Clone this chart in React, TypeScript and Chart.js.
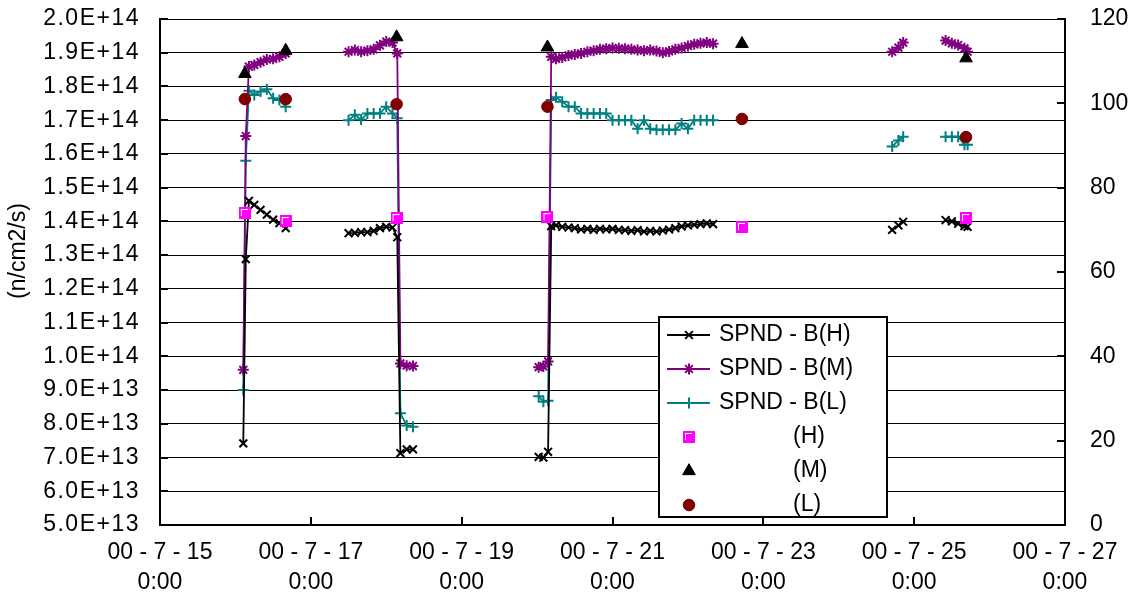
import React, { useEffect, useRef } from 'react';
import { Chart, registerables } from 'chart.js';
import { drawPoint } from 'chart.js/helpers';

Chart.register(...registerables);

const FONT = "'Liberation Sans', Arial, sans-serif";
const FONT_SIZE = 23;

// Time axis: hours since 2000-07-15 0:00
const X_MIN = 0;
const X_MAX = 288;
const X_STEP = 48;
const X_TICK_LABELS = [
  ['00 - 7 - 15', '0:00'],
  ['00 - 7 - 17', '0:00'],
  ['00 - 7 - 19', '0:00'],
  ['00 - 7 - 21', '0:00'],
  ['00 - 7 - 23', '0:00'],
  ['00 - 7 - 25', '0:00'],
  ['00 - 7 - 27', '0:00'],
];

// Left axis in units of 1E13 n/cm2/s
const Y_MIN = 5;
const Y_MAX = 20;
const Y_STEP = 1;
const UNIT = 1e13;
const Y1_MIN = 0;
const Y1_MAX = 120;
const Y1_STEP = 20;

// SPND samples (null = no record, breaks the line)
const SPND_HOURS = [
  26.5, 27.3, 28.3, 30, 32, 34, 36, 38, 40,
  50,
  60, 62, 64, 66, 68, 70, 72, 74, 75.5, 76.5, 78.5, 80.5,
  100,
  120.5, 122, 123.5, 124.5, 126, 128, 130, 132, 134, 136, 138, 140, 142, 144, 146, 148, 150,
  152, 154, 156, 158, 160, 162, 164, 166, 168, 170, 172, 174, 176,
  200,
  233, 235, 236.5,
  243,
  250, 252, 254, 256, 257,
];

const SPND_H = [
  7.42, 12.88, 14.61, 14.49, 14.34, 14.2, 14.05, 13.95, 13.8,
  null,
  13.65, 13.66, 13.68, 13.68, 13.72, 13.8, 13.84, 13.82, 13.53, 7.13, 7.24, 7.24,
  null,
  7.02, 7.0, 7.17, 13.86, 13.88, 13.84, 13.82, 13.8, 13.76, 13.78, 13.75, 13.78, 13.76, 13.78, 13.75, 13.74, 13.72,
  13.74, 13.7, 13.72, 13.7, 13.73, 13.76, 13.8, 13.85, 13.88, 13.9, 13.92, 13.94, 13.92,
  null,
  13.75, 13.88, 13.99,
  null,
  14.04, 14.0, 13.93, 13.86, 13.84,
];

const SPND_M = [
  9.6, 16.53, 18.59, 18.64, 18.72, 18.8, 18.82, 18.88, 18.98,
  null,
  19.03, 19.08, 19.03, 19.06, 19.1, 19.22, 19.33, 19.3, 18.98, 9.79, 9.72, 9.71,
  null,
  9.68, 9.7, 9.85, 18.88, 18.82, 18.86, 18.92, 18.95, 18.98, 19.03, 19.06, 19.1, 19.12, 19.14, 19.13, 19.12, 19.1,
  19.08, 19.06, 19.08, 19.05, 19.0, 19.04, 19.1, 19.14, 19.2, 19.25, 19.28, 19.3, 19.27,
  null,
  19.03, 19.15, 19.3,
  null,
  19.36, 19.28, 19.23, 19.13, 19.03,
];

const SPND_L = [
  9.0, 15.8, 17.87, 17.75, 17.85, 17.92, 17.65, 17.6, 17.4,
  null,
  17.0, 17.16, 17.02, 17.2, 17.2, 17.2, 17.4, 17.2, 17.06, 8.31, 7.95, 7.91,
  null,
  8.82, 8.65, 8.68, 17.6, 17.68, 17.55, 17.4, 17.4, 17.2, 17.2, 17.2, 17.2, 17.2, 17.0, 17.0, 17.0, 17.0,
  16.75, 17.0, 16.75, 16.72, 16.72, 16.72, 16.72, 16.9, 16.75, 17.0, 17.0, 17.0, 17.0,
  null,
  16.22, 16.4, 16.51,
  null,
  16.51, 16.51, 16.51, 16.27, 16.27,
];

// Point values on the right axis
const CALC_HOURS = [27, 40, 75.3, 123.3, 185.2, 256.5];
const CALC_H = [74.0, 72.1, 72.8, 73.0, 70.7, 72.8];
const CALC_M = [107.0, 112.5, 115.7, 113.3, 114.1, 110.7];
const CALC_L = [101.0, 101.0, 99.8, 99.2, 96.3, 92.0];

const SERIES_LABELS = ['SPND - B(H)', 'SPND - B(M)', 'SPND - B(L)', '(H)', '(M)', '(L)'];
const AXIS_TITLE = '(n/cm2/s)';

function pairs(xs: number[], ys: (number | null)[], scale = 1) {
  return xs.map((x, i) => ({ x, y: ys[i] === null ? null : (ys[i] as number) * scale }));
}

function makeSquareIcon() {
  const c = document.createElement('canvas');
  c.width = 12;
  c.height = 12;
  const g = c.getContext('2d')!;
  g.fillStyle = '#FF00FF';
  g.fillRect(0, 0, 12, 12);
  g.fillStyle = '#FFFFFF';
  g.fillRect(2, 2, 7, 1);
  g.fillRect(2, 2, 1, 7);
  return c;
}

const tickMarks = {
  id: 'tickMarks',
  afterDraw(chart: any) {
    const { ctx, chartArea: a, scales } = chart;
    ctx.save();
    ctx.strokeStyle = '#000';
    ctx.lineWidth = 2;
    scales.x.ticks.forEach((t: any) => {
      const px = Math.round(scales.x.getPixelForValue(t.value));
      ctx.beginPath();
      ctx.moveTo(px, a.bottom);
      ctx.lineTo(px, a.bottom - 8);
      ctx.stroke();
    });
    scales.y1.ticks.forEach((t: any) => {
      const py = Math.round(scales.y1.getPixelForValue(t.value));
      ctx.beginPath();
      ctx.moveTo(a.right, py);
      ctx.lineTo(a.right - 8, py);
      ctx.stroke();
    });
    scales.y.ticks.forEach((t: any) => {
      const py = Math.round(scales.y.getPixelForValue(t.value));
      ctx.beginPath();
      ctx.moveTo(a.left, py);
      ctx.lineTo(a.left + 8, py);
      ctx.stroke();
    });
    ctx.restore();
  },
};

const axisTitle = {
  id: 'axisTitle',
  afterDraw(chart: any) {
    const { ctx } = chart;
    ctx.save();
    ctx.translate(19, 251);
    ctx.rotate(-Math.PI / 2);
    ctx.font = `${FONT_SIZE}px ${FONT}`;
    ctx.fillStyle = '#000';
    ctx.textAlign = 'center';
    ctx.textBaseline = 'middle';
    ctx.fillText(AXIS_TITLE, 0, 0);
    ctx.restore();
  },
};

const boxLegend = {
  id: 'boxLegend',
  afterDraw(chart: any) {
    const { ctx } = chart;
    const L = 659, T = 317, W = 228, H = 200, ROW = 34;
    ctx.save();
    ctx.fillStyle = '#fff';
    ctx.fillRect(L, T, W, H);
    ctx.strokeStyle = '#000';
    ctx.lineWidth = 2;
    ctx.strokeRect(L, T, W, H);
    chart.data.datasets.forEach((ds: any, i: number) => {
      const cy = T + 18 + i * ROW;
      if (ds.showLine !== false) {
        ctx.strokeStyle = ds.borderColor;
        ctx.lineWidth = ds.borderWidth;
        ctx.beginPath();
        ctx.moveTo(L + 8, cy);
        ctx.lineTo(L + 51, cy);
        ctx.stroke();
      }
      ctx.fillStyle = ds.pointBackgroundColor;
      ctx.strokeStyle = ds.pointBorderColor;
      ctx.lineWidth = ds.pointBorderWidth;
      drawPoint(ctx, { pointStyle: ds.pointStyle, radius: ds.pointRadius, borderWidth: ds.pointBorderWidth, rotation: 0 } as any, L + 30, cy);
      ctx.fillStyle = '#000';
      ctx.font = `${FONT_SIZE}px ${FONT}`;
      ctx.textBaseline = 'middle';
      ctx.textAlign = 'left';
      ctx.fillText(ds.label, ds.showLine === false ? L + 134 : L + 60, cy);
    });
    ctx.restore();
  },
};

function fixVertical(width: number, spacing?: string) {
  return (s: any) => {
    s.width = width;
    s.paddingTop = 0;
    s.paddingBottom = 0;
    if (spacing && !s.__spaced) {
      const orig = s.drawLabels.bind(s);
      s.drawLabels = (area: any) => {
        s.ctx.save();
        s.ctx.letterSpacing = spacing;
        orig(area);
        s.ctx.restore();
      };
      s.__spaced = true;
    }
  };
}

export default function App() {
  const ref = useRef<HTMLCanvasElement | null>(null);

  useEffect(() => {
    if (!ref.current) return;
    const square = makeSquareIcon();
    const lineDs = (label: string, ys: (number | null)[], color: string, style: string) => ({
      label,
      data: pairs(SPND_HOURS, ys, UNIT),
      yAxisID: 'y',
      borderColor: color,
      backgroundColor: color,
      borderWidth: 1.8,
      pointStyle: style,
      pointRadius: 5.5,
      pointBorderWidth: 2,
      pointBorderColor: color,
      pointBackgroundColor: color,
      spanGaps: false,
      order: 1,
    });
    const pointDs = (label: string, ys: number[], color: string, style: any, radius: number) => ({
      label,
      data: pairs(CALC_HOURS, ys),
      yAxisID: 'y1',
      showLine: false,
      borderColor: color,
      backgroundColor: color,
      pointStyle: style,
      pointRadius: radius,
      pointBorderWidth: 1,
      pointBorderColor: color,
      pointBackgroundColor: color,
      order: 0,
    });

    const chart = new Chart(ref.current, {
      type: 'line',
      data: {
        datasets: [
          lineDs(SERIES_LABELS[0], SPND_H, '#000000', 'crossRot'),
          lineDs(SERIES_LABELS[1], SPND_M, '#800080', 'star'),
          lineDs(SERIES_LABELS[2], SPND_L, '#008080', 'cross'),
          pointDs(SERIES_LABELS[3], CALC_H, '#FF00FF', square, 6),
          pointDs(SERIES_LABELS[4], CALC_M, '#000000', 'triangle', 7.3),
          pointDs(SERIES_LABELS[5], CALC_L, '#800000', 'circle', 5.8),
        ] as any,
      },
      options: {
        responsive: false,
        animation: false,
        events: [],
        layout: { padding: { top: 19, left: 0, right: 0, bottom: 0 } },
        plugins: { legend: { display: false }, tooltip: { enabled: false } },
        scales: {
          x: {
            type: 'linear',
            min: X_MIN,
            max: X_MAX,
            ticks: {
              stepSize: X_STEP,
              autoSkip: false,
              maxRotation: 0,
              padding: 13,
              color: '#000',
              font: { family: FONT, size: FONT_SIZE, lineHeight: 1.3 },
              callback: (v: any) => X_TICK_LABELS[Math.round((Number(v) - X_MIN) / X_STEP)] as any,
            },
            grid: { display: false, drawTicks: false },
            border: { display: true, color: '#000', width: 2 },
            afterFit: (s: any) => { s.height = 81; },
          },
          y: {
            position: 'left',
            min: Y_MIN * UNIT,
            max: Y_MAX * UNIT,
            ticks: {
              stepSize: Y_STEP * UNIT,
              autoSkip: false,
              padding: 20,
              color: '#000',
              font: { family: FONT, size: FONT_SIZE },
              callback: (v: any) => Number(v).toExponential(1).toUpperCase(),
            },
            grid: { color: '#000', lineWidth: 1, drawTicks: false },
            border: { display: true, color: '#000', width: 2 },
            afterFit: fixVertical(160, '1.5px'),
          },
          y1: {
            position: 'right',
            min: Y1_MIN,
            max: Y1_MAX,
            ticks: {
              stepSize: Y1_STEP,
              autoSkip: false,
              padding: 25,
              color: '#000',
              font: { family: FONT, size: FONT_SIZE },
            },
            grid: { drawOnChartArea: false, drawTicks: false },
            border: { display: true, color: '#000', width: 2 },
            afterFit: fixVertical(71),
          },
        },
      } as any,
      plugins: [tickMarks, axisTitle, boxLegend],
    });
    return () => chart.destroy();
  }, []);

  return (
    <div style={{ position: 'fixed', left: 0, top: 0, width: 1136, height: 606, background: '#fff' }}>
      <canvas ref={ref} width={1136} height={606} style={{ display: 'block' }} />
    </div>
  );
}
